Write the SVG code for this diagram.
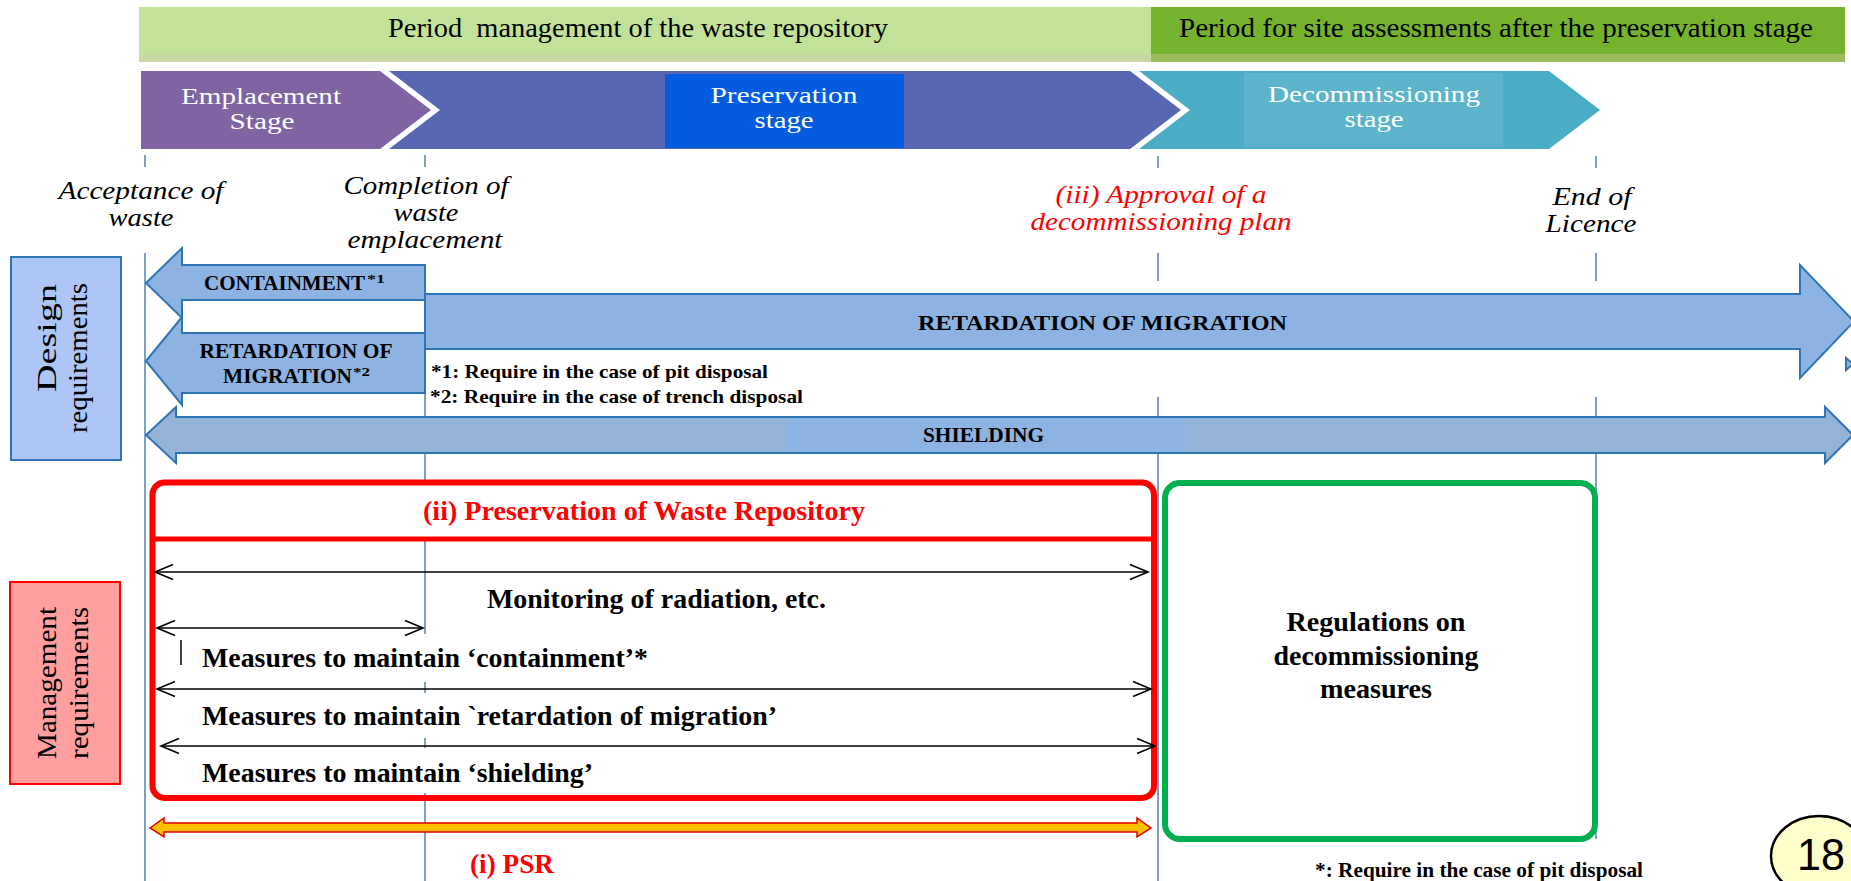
<svg xmlns="http://www.w3.org/2000/svg" width="1851" height="881" viewBox="0 0 1851 881">
<style>
.s{font-family:"Liberation Serif","Times New Roman",serif}
.b{font-weight:bold}
.i{font-style:italic}
.vl{stroke:#4f81bd;stroke-width:1.5;fill:none}
.ba{fill:#8db3e2;stroke:#2e75b6;stroke-width:2}
.th{stroke:#000;stroke-width:1.6;fill:none}
.wt{fill:#fff}
.red{fill:#ff0000}
</style>
<rect x="0" y="0" width="1851" height="881" fill="#fff"/>

<g id="timeline-lines">
  <line class="vl" x1="145" y1="155" x2="145" y2="167"/>
  <line class="vl" x1="425" y1="155" x2="425" y2="167"/>
  <line class="vl" x1="1158" y1="156" x2="1158" y2="168"/>
  <line class="vl" x1="1596" y1="156" x2="1596" y2="168"/>
  <line class="vl" x1="145" y1="253" x2="145" y2="881"/>
  <line class="vl" x1="425" y1="393" x2="425" y2="482"/>
  <line class="vl" x1="425" y1="540" x2="425" y2="634"/>
  <line class="vl" x1="425" y1="682" x2="425" y2="693"/>
  <line class="vl" x1="425" y1="738" x2="425" y2="748"/>
  <line class="vl" x1="425" y1="793" x2="425" y2="881"/>
  <line class="vl" x1="1158" y1="253" x2="1158" y2="281"/>
  <line class="vl" x1="1158" y1="397" x2="1158" y2="881"/>
  <line class="vl" x1="1596" y1="253" x2="1596" y2="281"/>
  <line class="vl" x1="1596" y1="397" x2="1596" y2="839"/>
</g>

<g id="period-bar-1">
  <rect x="139" y="7" width="1012" height="55" fill="#c2e29a"/>
  <rect x="139" y="54" width="1012" height="8" fill="#c7d8a0"/>
  <text class="s" x="388" y="37" font-size="28" textLength="500" lengthAdjust="spacingAndGlyphs" xml:space="preserve">Period  management of the waste repository</text>
</g>
<g id="period-bar-2">
  <rect x="1151" y="7" width="694" height="55" fill="#75b22e"/>
  <rect x="1151" y="54" width="694" height="8" fill="#9cbb5a"/>
  <text class="s" x="1179" y="37" font-size="28" textLength="634" lengthAdjust="spacingAndGlyphs">Period for site assessments after the preservation stage</text>
</g>

<g id="stage-emplacement">
  <polygon points="141,71 380,71 431,110 380,149 141,149" fill="#8064a2"/>
  <text class="s wt" x="261" y="104" font-size="23" text-anchor="middle" textLength="160" lengthAdjust="spacingAndGlyphs">Emplacement</text>
  <text class="s wt" x="262" y="129" font-size="23" text-anchor="middle" textLength="65" lengthAdjust="spacingAndGlyphs">Stage</text>
</g>
<g id="stage-preservation">
  <polygon points="389,71 1130,71 1181,110 1130,149 389,149 440,110" fill="#5867b1"/>
  <rect x="665" y="74" width="239" height="74" fill="#035ce0"/>
  <text class="s wt" x="784" y="103" font-size="23" text-anchor="middle" textLength="147" lengthAdjust="spacingAndGlyphs">Preservation</text>
  <text class="s wt" x="784" y="128" font-size="23" text-anchor="middle" textLength="59" lengthAdjust="spacingAndGlyphs">stage</text>
</g>
<g id="stage-decommissioning">
  <polygon points="1139,71 1549,71 1600,110 1549,149 1139,149 1190,110" fill="#4bacc6"/>
  <rect x="1244" y="73" width="259" height="74" fill="#5cb4cb"/>
  <text class="s wt" x="1374" y="102" font-size="23" text-anchor="middle" textLength="212" lengthAdjust="spacingAndGlyphs">Decommissioning</text>
  <text class="s wt" x="1374" y="127" font-size="23" text-anchor="middle" textLength="59" lengthAdjust="spacingAndGlyphs">stage</text>
</g>

<g id="milestone-acceptance">
  <text class="s i" x="141" y="199" font-size="25" text-anchor="middle" textLength="165" lengthAdjust="spacingAndGlyphs">Acceptance of</text>
  <text class="s i" x="141" y="226" font-size="25" text-anchor="middle" textLength="65" lengthAdjust="spacingAndGlyphs">waste</text>
</g>
<g id="milestone-completion">
  <text class="s i" x="426" y="194" font-size="25" text-anchor="middle" textLength="165" lengthAdjust="spacingAndGlyphs">Completion of</text>
  <text class="s i" x="426" y="221" font-size="25" text-anchor="middle" textLength="65" lengthAdjust="spacingAndGlyphs">waste</text>
  <text class="s i" x="425" y="248" font-size="25" text-anchor="middle" textLength="155" lengthAdjust="spacingAndGlyphs">emplacement</text>
</g>
<g id="milestone-approval">
  <text class="s i red" x="1161" y="203" font-size="25" text-anchor="middle" textLength="211" lengthAdjust="spacingAndGlyphs">(iii) Approval of a</text>
  <text class="s i red" x="1161" y="230" font-size="25" text-anchor="middle" textLength="261" lengthAdjust="spacingAndGlyphs">decommissioning plan</text>
</g>
<g id="milestone-end">
  <text class="s i" x="1592" y="205" font-size="25" text-anchor="middle" textLength="79" lengthAdjust="spacingAndGlyphs">End of</text>
  <text class="s i" x="1591" y="232" font-size="25" text-anchor="middle" textLength="91" lengthAdjust="spacingAndGlyphs">Licence</text>
</g>

<g id="design-requirements">
  <rect x="11" y="257" width="110" height="203" fill="#aec6f6" stroke="#2e75b6" stroke-width="2"/>
  <text class="s" transform="translate(56,338) rotate(-90)" font-size="28" text-anchor="middle" textLength="108" lengthAdjust="spacingAndGlyphs">Design</text>
  <text class="s" transform="translate(87,358) rotate(-90)" font-size="28" text-anchor="middle" textLength="150" lengthAdjust="spacingAndGlyphs">requirements</text>
</g>
<g id="management-requirements">
  <rect x="10" y="582" width="110" height="202" fill="#ff9f9f" stroke="#ff0000" stroke-width="2"/>
  <text class="s" transform="translate(56,683) rotate(-90)" font-size="28" text-anchor="middle" textLength="152" lengthAdjust="spacingAndGlyphs">Management</text>
  <text class="s" transform="translate(88,683) rotate(-90)" font-size="28" text-anchor="middle" textLength="152" lengthAdjust="spacingAndGlyphs">requirements</text>
</g>

<g id="arrow-containment">
  <polygon class="ba" points="146,283 182,248 182,265 425,265 425,300 182,300 182,318"/>
  <text class="s b" x="204" y="290" font-size="20" textLength="161" lengthAdjust="spacingAndGlyphs">CONTAINMENT</text>
  <text class="s b" x="367" y="283" font-size="13" textLength="18" lengthAdjust="spacingAndGlyphs">*1</text>
</g>
<g id="arrow-retardation-small">
  <polygon class="ba" points="146,361 182,317 182,333 425,333 425,393 182,393 182,405"/>
  <text class="s b" x="296" y="358" font-size="20" text-anchor="middle" textLength="193" lengthAdjust="spacingAndGlyphs">RETARDATION OF</text>
  <text class="s b" x="223" y="383" font-size="20" textLength="129" lengthAdjust="spacingAndGlyphs">MIGRATION</text>
  <text class="s b" x="353" y="376" font-size="13" textLength="17" lengthAdjust="spacingAndGlyphs">*2</text>
</g>
<g id="arrow-retardation">
  <polygon class="ba" points="425,294 1800,294 1800,265 1854,321.5 1800,378 1800,349 425,349"/>
  <text class="s b" x="918" y="330" font-size="22" textLength="369" lengthAdjust="spacingAndGlyphs">RETARDATION OF MIGRATION</text>
  <polygon class="ba" points="1846,358 1853,364 1846,370" stroke-width="1.5"/>
</g>
<g id="footnotes-design">
  <text class="s b" x="431" y="378" font-size="19" textLength="337" lengthAdjust="spacingAndGlyphs">*1: Require in the case of pit disposal</text>
  <text class="s b" x="430" y="403" font-size="19" textLength="373" lengthAdjust="spacingAndGlyphs">*2: Require in the case of trench disposal</text>
</g>
<g id="arrow-shielding">
  <polygon points="146,435 176,407 176,417 1825,417 1825,407 1853,435 1825,463 1825,453 176,453 176,463" fill="#95b3d7" stroke="#2e75b6" stroke-width="2"/>
  <rect x="787" y="418" width="398" height="34" fill="#8db3e2"/>
  <text class="s b" x="923" y="442" font-size="20" textLength="121" lengthAdjust="spacingAndGlyphs">SHIELDING</text>
</g>

<g id="preservation-box">
  <rect x="152.5" y="482.5" width="1001.5" height="315.5" rx="12" fill="none" stroke="#ff0000" stroke-width="6"/>
  <line x1="152.5" y1="539" x2="1154" y2="539" stroke="#ff0000" stroke-width="5"/>
  <text class="s b red" x="644" y="520" font-size="28" text-anchor="middle" textLength="442" lengthAdjust="spacingAndGlyphs">(ii) Preservation of Waste Repository</text>
  <text class="s b" x="487" y="608" font-size="28" textLength="339" lengthAdjust="spacingAndGlyphs">Monitoring of radiation, etc.</text>
  <text class="s b" x="202" y="667" font-size="28" textLength="446" lengthAdjust="spacingAndGlyphs">Measures to maintain ‘containment’*</text>
  <text class="s b" x="202" y="725" font-size="28" textLength="575" lengthAdjust="spacingAndGlyphs">Measures to maintain `retardation of migration’</text>
  <text class="s b" x="202" y="782" font-size="28" textLength="391" lengthAdjust="spacingAndGlyphs">Measures to maintain ‘shielding’</text>
  <line x1="181" y1="640" x2="181" y2="665" stroke="#000" stroke-width="1.5"/>
</g>

<g id="connectors">
  <line class="th" x1="155" y1="572" x2="1148" y2="572"/>
  <polyline class="th" points="173,564.5 155,572 173,579.5"/>
  <polyline class="th" points="1130,564.5 1148,572 1130,579.5"/>
  <line class="th" x1="157" y1="628" x2="423" y2="628"/>
  <polyline class="th" points="175,620.5 157,628 175,635.5"/>
  <polyline class="th" points="405,620.5 423,628 405,635.5"/>
  <line class="th" x1="157" y1="689" x2="1151" y2="689"/>
  <polyline class="th" points="175,681.5 157,689 175,696.5"/>
  <polyline class="th" points="1133,681.5 1151,689 1133,696.5"/>
  <line class="th" x1="161" y1="746" x2="1155" y2="746"/>
  <polyline class="th" points="179,738.5 161,746 179,753.5"/>
  <polyline class="th" points="1137,738.5 1155,746 1137,753.5"/>
  <polygon points="150,828 164,818 164,823 1137,823 1137,818 1151,828 1137,837 1137,832 164,832 164,837" fill="#ffc000" stroke="#e00000" stroke-width="1.5"/>
</g>

<g id="psr-label">
  <text class="s b red" x="470" y="873" font-size="28" textLength="84" lengthAdjust="spacingAndGlyphs">(i) PSR</text>
</g>

<g id="decommissioning-box">
  <rect x="1165" y="483" width="430" height="356" rx="15" fill="none" stroke="#00b050" stroke-width="6"/>
  <text class="s b" x="1376" y="631" font-size="28" text-anchor="middle" textLength="179" lengthAdjust="spacingAndGlyphs">Regulations on</text>
  <text class="s b" x="1376" y="665" font-size="28" text-anchor="middle" textLength="205" lengthAdjust="spacingAndGlyphs">decommissioning</text>
  <text class="s b" x="1376" y="698" font-size="28" text-anchor="middle" textLength="112" lengthAdjust="spacingAndGlyphs">measures</text>
</g>

<g id="footnote-bottom">
  <text class="s b" x="1315" y="877" font-size="20" textLength="328" lengthAdjust="spacingAndGlyphs">*: Require in the case of pit disposal</text>
</g>

<g id="page-number">
  <ellipse cx="1819" cy="856" rx="48" ry="40" fill="#ffffcc" stroke="#000" stroke-width="2.5"/>
  <text x="1821" y="870" font-family="Liberation Sans, Arial, sans-serif" font-size="44" text-anchor="middle" textLength="48" lengthAdjust="spacingAndGlyphs">18</text>
</g>
</svg>
